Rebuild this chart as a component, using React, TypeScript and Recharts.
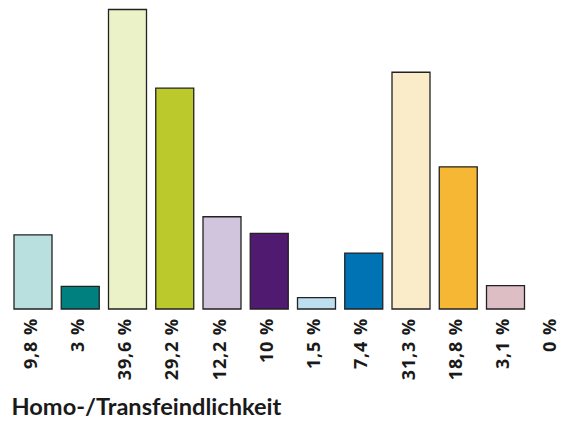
import React from "react";
import { BarChart, Bar, XAxis, YAxis, Cell } from "recharts";

const tickLabels = ["9,8 %", "3 %", "39,6 %", "29,2 %", "12,2 %", "10 %", "1,5 %", "7,4 %", "31,3 %", "18,8 %", "3,1 %", "0 %"];
const values = [9.8, 3, 39.6, 29.2, 12.2, 10, 1.5, 7.4, 31.3, 18.8, 3.1, 0];
const colors = ["#badfdf", "#00807f", "#ebf2c7", "#bbc92c", "#d0c5dc", "#4f1a6f", "#bcdeee", "#0073b4", "#fbecc9", "#f6b834", "#ddbec5", "#cccccc"];
const title = "Homo-/Transfeindlichkeit";

const data = tickLabels.map((label, i) => ({ label, value: values[i] }));

const FONT = "Lato, 'Open Sans', sans-serif";
const TICK_FONT = "'Open Sans', Lato, sans-serif";

const Tick = (props: any) => {
  const { x, y, payload } = props;
  return (
    <g transform={`translate(${x},${y}) rotate(-90)`}>
      <text x={0} y={4} textAnchor="end" fontFamily={TICK_FONT} fontWeight={700} fontSize={18} letterSpacing={0.9} fill="#1a1a1a">
        {payload.value}
      </text>
    </g>
  );
};

export default function App() {
  return (
    <div style={{ position: "relative", width: 558, height: 415, overflow: "hidden" }}>
      <div style={{ position: "absolute", left: 0, top: 0 }}>
        <BarChart width={568} height={380} data={data} margin={{ top: 1.5, right: 0, bottom: 0, left: 1 }}>
          <XAxis
            dataKey="label"
            axisLine={false}
            tickLine={false}
            tickSize={0}
            tickMargin={9}
            height={79}
            interval={0}
            tick={<Tick />}
          />
          <YAxis hide domain={[0, 39.6]} />
          <Bar dataKey="value" barSize={38} stroke="#222" strokeWidth={1.3} isAnimationActive={false}>
            {data.map((d, i) => (
              <Cell key={d.label} fill={colors[i]} />
            ))}
          </Bar>
        </BarChart>
      </div>
      <svg width={558} height={415} style={{ position: "absolute", left: 0, top: 0, pointerEvents: "none" }}>
        <text x={3.5} y={407} fontFamily={FONT} fontWeight={700} fontSize={23.6} fill="#1a1a1a">
          {title}
        </text>
      </svg>
    </div>
  );
}
